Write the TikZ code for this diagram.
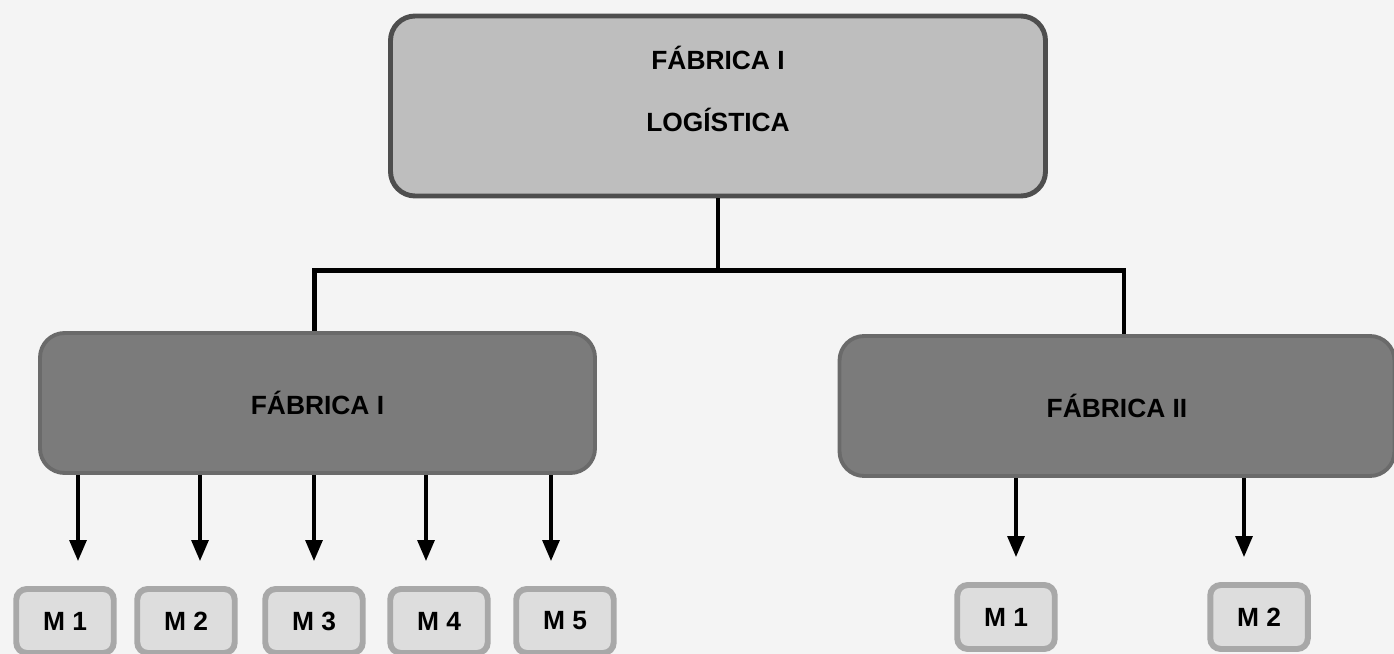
\documentclass[tikz,border=0pt]{standalone}
\usepackage{fontspec}
\setmainfont{Liberation Sans}
\usepackage{xcolor}
\usetikzlibrary{arrows.meta, positioning, calc}

\definecolor{bgcol}{HTML}{F4F4F4}
\definecolor{logfill}{HTML}{BEBEBE}
\definecolor{logdraw}{HTML}{4E4E4E}
\definecolor{fabfill}{HTML}{7B7B7B}
\definecolor{fabdraw}{HTML}{6A6A6A}
\definecolor{mfill}{HTML}{DDDDDD}
\definecolor{mdraw}{HTML}{A8A8A8}

\begin{document}
\begin{tikzpicture}[
  font=\bfseries\fontsize{15}{18}\selectfont,
  logbox/.style={rectangle, rounded corners=14pt, draw=logdraw, line width=2.8pt,
                 fill=logfill, minimum width=13.1cm, minimum height=3.6cm, align=center},
  fabbox/.style={rectangle, rounded corners=14pt, draw=fabdraw, line width=2.2pt,
                 fill=fabfill, minimum width=11.1cm, minimum height=2.8cm, align=center},
  mbox/.style={rectangle, rounded corners=6pt, draw=mdraw, line width=3.4pt,
               fill=mfill, minimum width=1.95cm, minimum height=1.28cm},
  link/.style={line width=2.8pt, draw=black},
  arr/.style={-{Triangle[length=0.42cm, width=0.34cm]}, line width=1.8pt,
              shorten >=0.5cm}
]
%% frame (reference proportions)
\fill[bgcol] (0,0) rectangle (27.88,-13.08);
\useasboundingbox (0,0) rectangle (27.88,-13.08);
%% top level (text sits a little above the middle)
\node[logbox] (log) at (14.36,-2.12)
  {\raisebox{7pt}[\height][\depth]{\begin{tabular}{@{}c@{}}FÁBRICA I\\[17pt]LOGÍSTICA\end{tabular}}};
%% factories
\node[fabbox] (fab1) at (6.35,-8.06)  {FÁBRICA I};
\node[fabbox] (fab2) at (22.34,-8.12) {FÁBRICA II};
%% machines
\node[mbox] (a1) at (1.30,-12.42)  {M 1};
\node[mbox] (a2) at (3.72,-12.42)  {M 2};
\node[mbox] (a3) at (6.28,-12.42)  {M 3};
\node[mbox] (a4) at (8.78,-12.42)  {M 4};
\node[mbox] (a5) at (11.30,-12.42) {M 5};
\node[mbox] (b1) at (20.12,-12.34) {M 1};
\node[mbox] (b2) at (25.18,-12.34) {M 2};
%% tree connector
\coordinate (bus) at ($(log.south)+(0,-1.44)$);
\draw[link] (log.south) -- (bus);
\draw[link] (bus) -| ([xshift=-0.06cm]fab1.north);
\draw[link] (bus) -| ([xshift=0.14cm]fab2.north);
%% arrows to machines
\foreach \m/\dx in {a1/0.26, a2/0.28, a3/0, a4/-0.26, a5/-0.28}
  \draw[arr] ([xshift=\dx cm]fab1.south -| \m.north) -- ([xshift=\dx cm]\m.north);
\foreach \m/\dx in {b1/0.2, b2/-0.3}
  \draw[arr] ([xshift=\dx cm]fab2.south -| \m.north) -- ([xshift=\dx cm]\m.north);
\end{tikzpicture}
\end{document}
